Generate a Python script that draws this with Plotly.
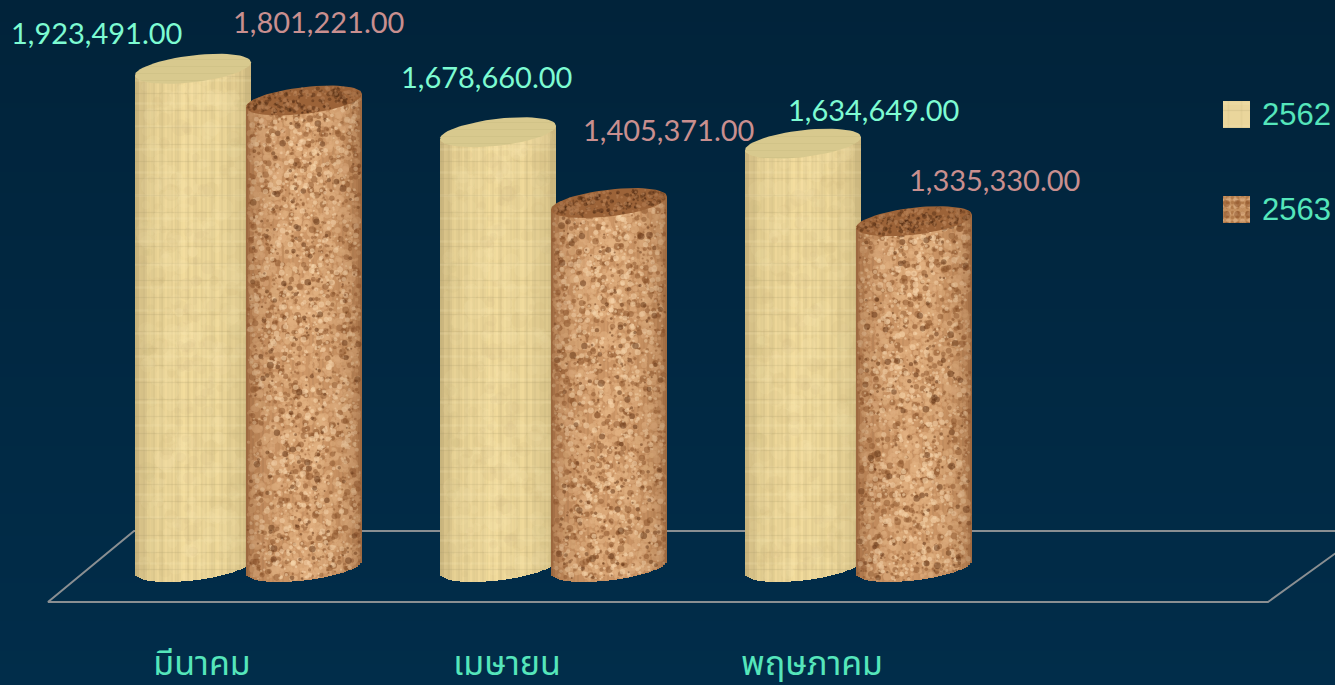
import math
import plotly.graph_objects as go

# ---- data ----
months = ["มีนาคม", "เมษายน", "พฤษภาคม"]
series_names = ["2562", "2563"]
values_2562 = [1923491.00, 1678660.00, 1634649.00]
values_2563 = [1801221.00, 1405371.00, 1335330.00]

# ---- layout constants (pixels) ----
W, H = 1335, 685
GROUP_PX = 305.0
TICK0_PX = 202.0
BASE_PX = 567.0
PX_PER_VALUE = 0.000259
BAR_OFFSET_PX = {"2562": -9.0, "2563": 102.0}
A, TILT, B = 58.0, 6.5, 13.5
STRIP_PX = 2.0

TEXT_WOOD = "#7dfbd2"
TEXT_CORK = "#c98f8f"
TEXT_AXIS = "#55e6bb"
FONT_LABEL = "Lato, Carlito, sans-serif"
FONT_THAI = "Noto Sans Thai, Noto Sans, sans-serif"

WOOD_OFFS = [(-97, 36), (-12, 56), (70, 34)]
CORK_OFFS = [(14, 79), (59, 74), (80, 42)]

GRAIN = [1.0, 0.975, 1.015, 0.99, 0.96, 0.985, 1.02, 1.03, 1.0, 0.97, 1.01, 1.025, 0.98, 0.965, 1.0, 1.02, 0.99]
GRAIN_CORK = [1.0, 0.98, 1.02, 0.97, 1.01]


def u(px):
    return (px - TICK0_PX) / GROUP_PX


def v(dpx):
    return dpx / PX_PER_VALUE


def mix(c1, c2, t):
    return tuple(c1[i] + (c2[i] - c1[i]) * t for i in range(3))


def hexc(c, f=1.0):
    return "#%02x%02x%02x" % tuple(max(0, min(255, int(round(x * f)))) for x in c)


def grainy(seed):
    """Deterministic decorative hash used only for the surface texture, not for any value."""
    x = math.sin(seed * 12.9898 + 4.1414) * 43758.5453
    return x - math.floor(x)


def speckle(cx, val, col, edge, density, smin, smax, opacity, phase, xa, ya, cap=False):
    """Decorative texture markers kept inside one cylinder (body or cap)."""
    xs, ys, sizes, cols = [], [], [], []
    count = int(math.pi * A * B / density) if cap else int(2 * A * val * PX_PER_VALUE / density)
    for i in range(count):
        ft = grainy(i + phase * 1000)
        fy = grainy(i * 1.37 + phase * 2000 + 7)
        fs = grainy(i * 0.73 + phase * 3000 + 13)
        size = smin + (smax - smin) * fs ** 2
        lim = 1 - size / (2 * A) - 0.01
        t = lim * (2 * ft - 1)
        s = math.sqrt(max(0.0, 1 - t * t))
        if cap:
            ypx = TILT * t + val * PX_PER_VALUE + (2 * fy - 1) * max(0.0, B * s - size / 2)
        else:
            s2 = math.sqrt(max(0.0, 1 - (abs(t) + size / (2 * A)) ** 2))
            low = TILT * t - B * s2 + size / 2
            top = val * PX_PER_VALUE + TILT * t
            ypx = low + fy * (top - low)
        xs.append(u(cx + t * A))
        ys.append(v(ypx))
        sizes.append(size)
        cols.append(hexc(mix(edge, col, s ** 0.5)))
    return go.Scatter(x=xs, y=ys, mode="markers",
                      marker=dict(size=sizes, color=cols, opacity=opacity, line=dict(width=0)),
                      showlegend=False, hoverinfo="skip", xaxis=xa, yaxis=ya)


def cylinder(values, name, edge, center, cap_col, grain, patterns, cap_pats, xa, ya, speck=(), cap_speck=()):
    """Traces of one series: shaded strips, texture overlay and elliptical caps."""
    traces = []
    sx, sbase, sh, scol = [], [], [], []
    n = int(2 * A / STRIP_PX)
    for g, val in enumerate(values):
        cx = TICK0_PX + g * GROUP_PX + BAR_OFFSET_PX[name]
        for k in range(n):
            t = -1 + (2 * k + 1) / n
            s = math.sqrt(max(0.0, 1 - t * t))
            base = v(TILT * t - B * s)
            top = val + v(TILT * t)
            sx.append(u(cx + t * A))
            sbase.append(base)
            sh.append(top - base)
            scol.append(hexc(mix(edge, center, s ** 0.6), grain[k % len(grain)]))
    traces.append(go.Bar(x=sx, y=sh, base=sbase, width=STRIP_PX / GROUP_PX,
                         marker=dict(color=scol, line=dict(width=0)),
                         showlegend=False, hoverinfo="skip", xaxis=xa, yaxis=ya))
    ts = [i / 40 for i in range(41)]
    for g, val in enumerate(values):
        cx = TICK0_PX + g * GROUP_PX + BAR_OFFSET_PX[name]
        bx, by = [], []
        for t in ts:
            a = math.pi + t * math.pi
            bx.append(u(cx + A * math.cos(a)))
            by.append(v(TILT * math.cos(a) + B * math.sin(a)))
        bx += [u(cx + A), u(cx - A)]
        by += [val + v(TILT), val - v(TILT)]
        for p in patterns:
            traces.append(go.Scatter(x=bx + bx[:1], y=by + by[:1], mode="lines", line=dict(width=0),
                                     fill="toself", fillcolor="rgba(0,0,0,0)", fillpattern=p,
                                     showlegend=False, hoverinfo="skip", xaxis=xa, yaxis=ya))
        for col, dens, smin, smax, op, ph in speck:
            traces.append(speckle(cx, val, col, edge, dens, smin, smax, op, ph + 0.13 * g, xa, ya))
        ts2 = [i / 60 for i in range(61)]
        capx = [u(cx + A * math.cos(2 * math.pi * t)) for t in ts2]
        capy = [val + v(TILT * math.cos(2 * math.pi * t) + B * math.sin(2 * math.pi * t)) for t in ts2]
        traces.append(go.Scatter(x=capx, y=capy, mode="lines", line=dict(width=0),
                                 fill="toself", fillcolor=cap_col,
                                 showlegend=False, hoverinfo="skip", xaxis=xa, yaxis=ya))
        for p in cap_pats:
            traces.append(go.Scatter(x=capx, y=capy, mode="lines", line=dict(width=0),
                                     fill="toself", fillcolor="rgba(0,0,0,0)", fillpattern=p,
                                     showlegend=False, hoverinfo="skip", xaxis=xa, yaxis=ya))
        for col, dens, smin, smax, op, ph in cap_speck:
            traces.append(speckle(cx, val, col, edge, dens, smin, smax, op, ph + 0.13 * g, xa, ya, cap=True))
    return traces


def pat(shape, size, solidity, color, opacity):
    return dict(shape=shape, size=size, solidity=solidity, fgcolor=color, fgopacity=opacity,
                bgcolor="rgba(0,0,0,0)")


wood_pats = [
    pat("-", 17, 0.08, "#a89868", 0.22),
    pat("-", 23, 0.1, "#fff0c0", 0.15),
    pat("|", 13, 0.15, "#bba970", 0.15),
]
cork_swatch_pats = [
    pat(".", 5, 0.4, "#8f5226", 0.35),
    pat(".", 7, 0.35, "#f0c8a0", 0.4),
    pat(".", 11, 0.3, "#7a3f18", 0.4),
]
wood_speck = [
    ((250, 232, 176), 220, 8, 22, 0.16, 0.31),
    ((206, 184, 128), 360, 6, 18, 0.12, 0.47),
]
cork_speck = [
    ((226, 178, 130), 22, 3, 9, 0.6, 0.11),
    ((134, 78, 38), 55, 2, 7, 0.45, 0.37),
    ((246, 212, 170), 48, 2, 6, 0.6, 0.71),
    ((96, 50, 20), 260, 2, 7, 0.5, 0.53),
]
cork_cap_speck = [
    ((70, 36, 14), 18, 2, 5, 0.4, 0.21),
    ((190, 136, 92), 22, 2, 5, 0.5, 0.63),
]
wood_cap_pats = [pat("-", 7, 0.15, "#bcae78", 0.25)]

fig = go.Figure()

fig.add_trace(go.Heatmap(x=[0, W], y=[0, H], z=[[0, 0], [1, 1]], zsmooth="best", showscale=False,
                         colorscale=[[0, "#01233a"], [1, "#012d4a"]], hoverinfo="skip",
                         xaxis="x", yaxis="y"))
fig.add_trace(go.Scatter(x=[W + 5, 134, 48, 1268, W + 5], y=[531, 531, 602, 602, 550],
                         mode="lines", line=dict(color="#8a8f92", width=2),
                         showlegend=False, hoverinfo="skip", xaxis="x", yaxis="y"))
SW = [(1223, 101, "#ead69c", wood_pats), (1223, 196, "#c48f5e", cork_swatch_pats)]
for x0, y0, col, pats in SW:
    xs, ys = [x0, x0 + 27, x0 + 27, x0, x0], [y0, y0, y0 + 27, y0 + 27, y0]
    fig.add_trace(go.Scatter(x=xs, y=ys, mode="lines", line=dict(width=0), fill="toself", fillcolor=col,
                             showlegend=False, hoverinfo="skip", xaxis="x", yaxis="y"))
    for p in pats:
        fig.add_trace(go.Scatter(x=xs, y=ys, mode="lines", line=dict(width=0), fill="toself",
                                 fillcolor="rgba(0,0,0,0)", fillpattern=p,
                                 showlegend=False, hoverinfo="skip", xaxis="x", yaxis="y"))

for tr in cylinder(values_2562, "2562", (180, 160, 108), (236, 214, 152), "#d8c98e", GRAIN,
                   wood_pats, wood_cap_pats, "x2", "y2", speck=wood_speck):
    fig.add_trace(tr)
for tr in cylinder(values_2563, "2563", (130, 78, 40), (204, 150, 102), "#9c6338", GRAIN_CORK,
                   [], [], "x3", "y3", speck=cork_speck, cap_speck=cork_cap_speck):
    fig.add_trace(tr)

annotations = []
for name, vals, offs, col in (("2562", values_2562, WOOD_OFFS, TEXT_WOOD),
                              ("2563", values_2563, CORK_OFFS, TEXT_CORK)):
    for g, val in enumerate(vals):
        annotations.append(dict(
            x=u(TICK0_PX + g * GROUP_PX + BAR_OFFSET_PX[name]), y=val, xref="x2", yref="y2",
            text=f"{val:,.2f}", showarrow=False, xshift=offs[g][0], yshift=offs[g][1],
            font=dict(family=FONT_LABEL, size=29, color=col)))
for (x0, y0, _, _), name in zip(SW, series_names):
    annotations.append(dict(x=1260, y=y0 + 13, xref="x", yref="y", text=name, showarrow=False,
                            xanchor="left", font=dict(family="Liberation Sans, Arial, sans-serif", size=31, color=TEXT_AXIS)))

xr = [u(0), u(W)]
yr = [v(BASE_PX - H), v(BASE_PX)]
hidden = dict(visible=False, fixedrange=True)
fig.update_layout(
    width=W, height=H, margin=dict(l=0, r=0, t=0, b=0, autoexpand=False), showlegend=False,
    paper_bgcolor="#012a44", plot_bgcolor="rgba(0,0,0,0)", barmode="overlay", bargap=0,
    annotations=annotations,
    xaxis=dict(range=[0, W], domain=[0, 1], **hidden),
    yaxis=dict(range=[H, 0], domain=[0, 1], **hidden),
    xaxis2=dict(range=xr, domain=[0, 1], overlaying="x", anchor="y2", side="bottom", fixedrange=True,
                automargin=False, tickmode="array", tickvals=list(range(len(months))), ticktext=months,
                ticklabelposition="inside", ticklabelstandoff=0, showgrid=False, zeroline=False,
                showline=False, ticks="", tickfont=dict(family=FONT_THAI, size=34, color=TEXT_AXIS)),
    yaxis2=dict(range=yr, domain=[0, 1], overlaying="y", anchor="x2", **hidden),
    xaxis3=dict(range=xr, domain=[0, 1], overlaying="x", anchor="y3", **hidden),
    yaxis3=dict(range=yr, domain=[0, 1], overlaying="y", anchor="x3", **hidden),
)

fig.write_html("out.html", config=dict(displayModeBar=False),
               post_script="document.body.style.margin='0';document.documentElement.style.background='#012a44';")
